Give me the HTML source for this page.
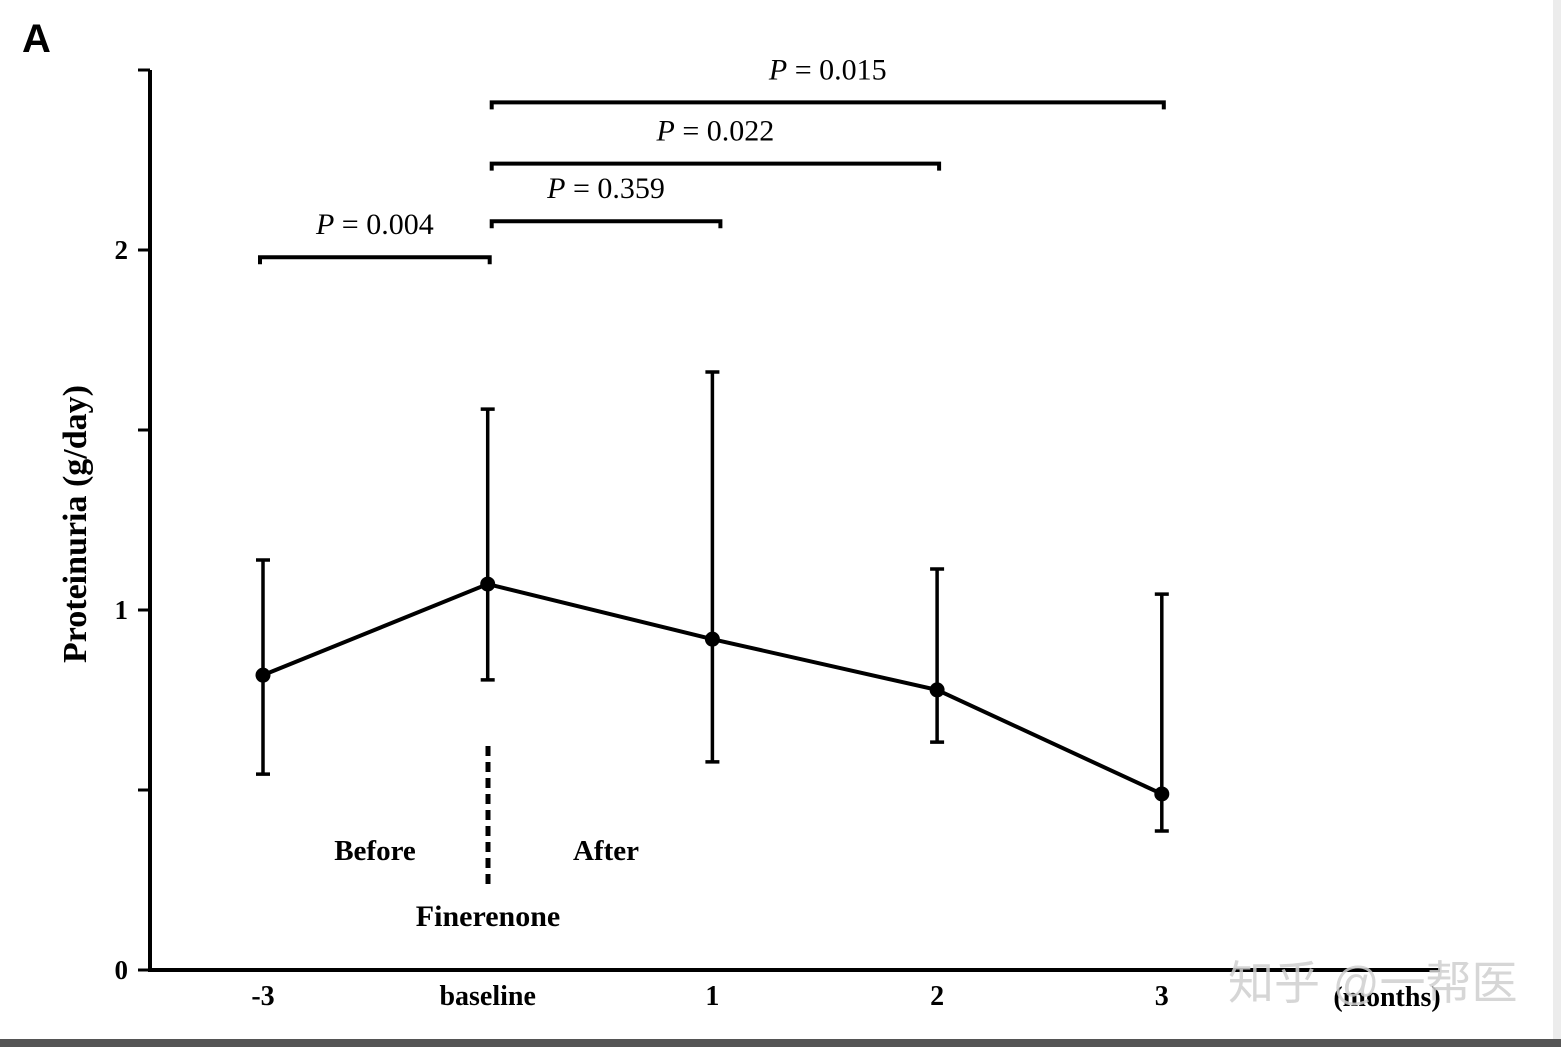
<!DOCTYPE html>
<html><head><meta charset="utf-8"><style>
body{margin:0;background:#fff;}
svg{display:block;font-family:"Liberation Serif",serif;}
</style></head><body>
<svg id="chart" width="1561" height="1047" viewBox="0 0 1561 1047">
<rect x="0" y="0" width="1561" height="1047" fill="#fff"/>
<rect x="1553" y="0" width="8" height="1040" fill="#ececec"/>
<rect x="0" y="1039" width="1561" height="8" fill="#555"/>
<text x="22" y="52" font-family="Liberation Sans,sans-serif" font-weight="bold" font-size="40">A</text>
<g id="axes"></g>
<g id="marks"></g>
<text x="1228" y="999" font-family="'Liberation Sans','Noto Sans CJK SC',sans-serif" font-size="46" fill="#cfcfcf" opacity="0.85">知乎 @一帮医</text>
</svg>
<script>
const categories = ["-3","baseline","1","2","3"];
const means = [0.819,1.072,0.919,0.778,0.489];
const errTop = [1.139,1.558,1.661,1.114,1.044];
const errBottom = [0.544,0.806,0.578,0.633,0.386];
const yTicks = [0,0.5,1,1.5,2,2.5];
const yTickLabels = ["0","","1","","2",""];
const brackets = [[0,1,"0.004",1.98],[1,2,"0.359",2.08],[1,3,"0.022",2.24],[1,4,"0.015",2.41]];

const NS="http://www.w3.org/2000/svg";
const X0=263, DX=224.7, Y0=970, PY=360;
const xs=i=>X0+i*DX, ys=v=>Y0-v*PY;
function mk(tag,attrs,parent,txt){const e=document.createElementNS(NS,tag);for(const k in attrs)e.setAttribute(k,attrs[k]);if(txt!==undefined)e.textContent=txt;parent.appendChild(e);return e;}
const ax=document.getElementById('axes'), mg=document.getElementById('marks');
let e;
e=mk('line',{x1:150,y1:ys(2.5),x2:150,y2:Y0+1,stroke:'#000','stroke-width':4},ax);


e=mk('line',{x1:148,y1:Y0,x2:1440,y2:Y0,stroke:'#000','stroke-width':4},ax);


yTicks.forEach((t,i)=>{
  e=mk('line',{x1:138,y1:ys(t),x2:150,y2:ys(t),stroke:'#000','stroke-width':3},ax);
  
  
  if(yTickLabels[i]){
    e=mk('text',{x:128,y:ys(t)+9,'text-anchor':'end','font-size':27,'font-weight':'bold'},ax,yTickLabels[i]);
    
    
  }
});
categories.forEach((c,i)=>{
  e=mk('text',{x:xs(i),y:1005,'text-anchor':'middle','font-size':28,'font-weight':'bold'},ax,c);
  
  
});
e=mk('text',{x:1387,y:1006,'text-anchor':'middle','font-size':28,'font-weight':'bold'},ax,"(months)");


e=mk('text',{x:0,y:0,transform:'translate(86,524) rotate(-90)','text-anchor':'middle','font-size':34,'font-weight':'bold'},ax,"Proteinuria (g/day)");


e=mk('line',{x1:488,y1:746,x2:488,y2:888,stroke:'#000','stroke-width':5,'stroke-dasharray':'10,6'},ax);


[["Before",375,860,29],["After",606,860,29],["Finerenone",488,926,30]].forEach(a=>{
  e=mk('text',{x:a[1],y:a[2],'text-anchor':'middle','font-size':a[3],'font-weight':'bold'},ax,a[0]);
  
  
});
e=mk('polyline',{points:means.map((m,i)=>xs(i)+','+ys(m)).join(' '),fill:'none',stroke:'#000','stroke-width':4},mg);


means.forEach((m,i)=>{
  const x=xs(i);
  e=mk('path',{d:`M${x},${ys(errTop[i])}V${ys(errBottom[i])}M${x-7},${ys(errTop[i])}H${x+7}M${x-7},${ys(errBottom[i])}H${x+7}`,stroke:'#000','stroke-width':3.5,fill:'none'},mg);
  
  
  e=mk('circle',{cx:x,cy:ys(m),r:7.5,fill:'#000'},mg);
  
  
});
brackets.forEach(b=>{
  const x1=xs(b[0])+(b[0]===0?-3:4), x2=xs(b[1])+(b[0]===0?2:(b[1]===2?8:2)), y=ys(b[3]);
  e=mk('path',{d:`M${x1},${y+7}V${y}H${x2}V${y+7}`,stroke:'#000','stroke-width':4,fill:'none'},mg);
  
  
  const t=mk('text',{x:(x1+x2)/2,y:y-23,'text-anchor':'middle','font-size':30},mg);
  
  
  mk('tspan',{'font-style':'italic'},t,'P');
  mk('tspan',{},t,' = '+b[2]);
});
</script>
</body></html>
